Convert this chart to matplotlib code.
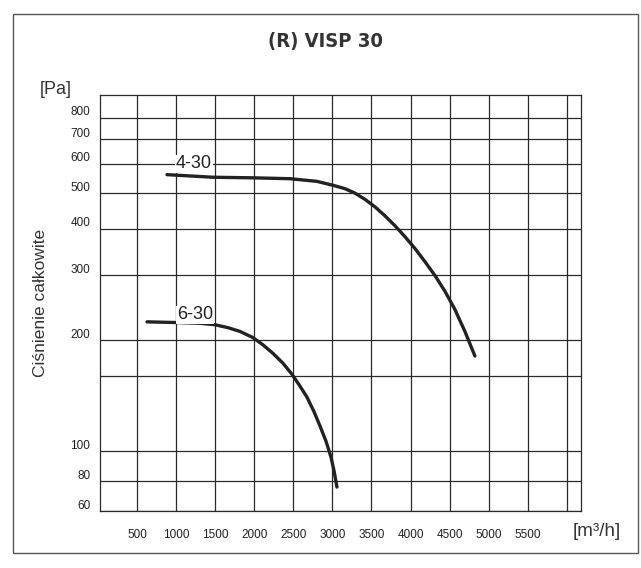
import numpy as np
import matplotlib
matplotlib.use("Agg")
import matplotlib.pyplot as plt
from matplotlib.patches import Rectangle
from matplotlib.transforms import ScaledTranslation

plt.rcParams['font.family'] = ['Liberation Sans', 'DejaVu Sans']

# Data
flow_4_30 = [884, 1472, 1984, 2457, 2802, 3007, 3161, 3288, 3416, 3544, 3672, 3800,
             3928, 4056, 4184, 4312, 4440, 4567, 4695, 4823]
pressure_4_30 = [561, 552, 550, 547, 538, 525, 514, 500, 481, 459, 434, 408,
                 381, 354, 326, 299, 271, 242, 211, 181]

flow_6_30 = [628, 1012, 1306, 1498, 1664, 1818, 1984, 2112, 2240, 2368, 2483, 2585,
             2675, 2764, 2841, 2918, 2982, 3020, 3058]
pressure_6_30 = [224, 223, 222, 220, 216, 211, 203, 194, 184, 173, 161.5, 150,
                 140, 128, 117, 106.4, 96, 87, 76]

x_ticks = [500, 1000, 1500, 2000, 2500, 3000, 3500, 4000, 4500, 5000, 5500]
x_extra_grid = [6000]
y_ticks = [60, 80, 100, 200, 300, 400, 500, 600, 700, 800]
y_extra_grid = [160]

# the chart uses log spacing above 100 Pa and linear spacing below
LIN = 1.5 / 370.0


def forward(y):
    y = np.asarray(y, dtype=float)
    return np.where(y >= 100, np.log10(np.maximum(y, 1e-9)), 2 - (100 - y) * LIN)


def inverse(u):
    u = np.asarray(u, dtype=float)
    return np.where(u >= 2, 10 ** np.minimum(u, 10), 100 - (2 - u) / LIN)


fig = plt.figure(figsize=(6.41, 5.68), dpi=100)
fig.patch.set_facecolor('white')
ax = fig.add_axes([100 / 641, 57 / 568, 481 / 641, 416 / 568])

ax.set_yscale('function', functions=(forward, inverse))
ax.set_xlim(27, 6180)
ax.set_ylim(60, 922)

grid_color = '#2a2a2a'
ax.set_xticks(x_ticks)
ax.set_xticklabels([str(v) for v in x_ticks])
ax.set_xticks(x_extra_grid, minor=True)
ax.set_yticks(y_ticks)
ax.set_yticklabels([str(v) for v in y_ticks])
ax.set_yticks(y_extra_grid, minor=True)
ax.grid(True, which='both', color=grid_color, linewidth=0.9)
ax.set_axisbelow(True)
ax.tick_params(axis='both', which='both', length=0, colors='#222222')
ax.tick_params(axis='x', pad=13, labelsize=8.5)
ax.tick_params(axis='y', pad=7, labelsize=8.5)
for s in ax.spines.values():
    s.set_color(grid_color)
    s.set_linewidth(0.9)

# y labels sit slightly above their lines
off = ScaledTranslation(0, 5 / 72, fig.dpi_scale_trans)
for lbl in ax.get_yticklabels():
    lbl.set_transform(lbl.get_transform() + off)

ax.plot(flow_4_30, pressure_4_30, color='#222222', linewidth=2.4, solid_capstyle='round', zorder=3)
ax.plot(flow_6_30, pressure_6_30, color='#222222', linewidth=2.4, solid_capstyle='round', zorder=3)

ax.text(1000, 600, '4-30', fontsize=13, color='#222222', ha='left', va='center',
        bbox=dict(facecolor='white', edgecolor='none', pad=0.5), zorder=4)
ax.text(1012, 234, '6-30', fontsize=13, color='#222222', ha='left', va='center',
        bbox=dict(facecolor='white', edgecolor='none', pad=0.5), zorder=4)

fig.text(326 / 641, 1 - 42 / 568, '(R) VISP 30', ha='center', va='center', fontsize=14.5,
         fontweight='bold', fontstretch='condensed', color='#333333',
         family=['DejaVu Sans'])
fig.text(56 / 641, 1 - 89 / 568, '[Pa]', ha='center', va='center', fontsize=13, color='#333333')
fig.text(597 / 641, 1 - 532 / 568, '[m\u00b3/h]', ha='center', va='center', fontsize=13.5, color='#333333')
fig.text(41 / 641, 1 - 303 / 568, 'Ciśnienie całkowite', ha='center', va='center', fontsize=12.5,
         rotation=90, color='#333333')

# outer frame of the card
fig.patches.append(Rectangle((13 / 641, 1 - 553 / 568), 625 / 641, 539 / 568,
                             transform=fig.transFigure, fill=False,
                             edgecolor='#555555', linewidth=1.0))

fig.savefig('out.png', dpi=100)
